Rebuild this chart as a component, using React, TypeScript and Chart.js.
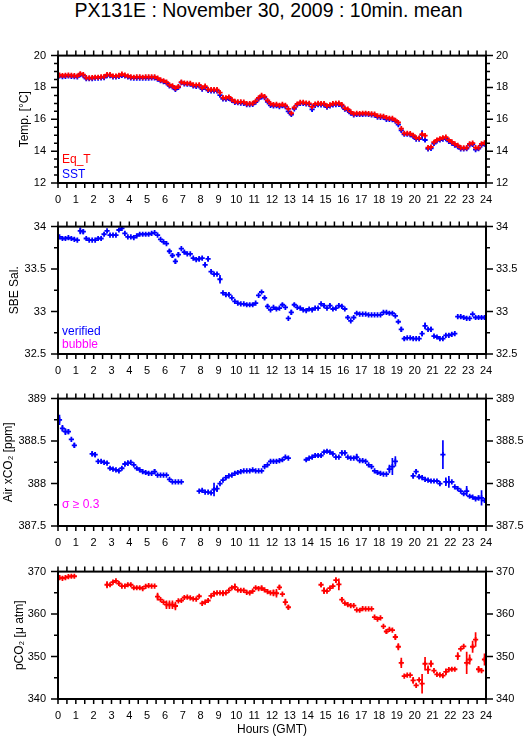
import React, { useEffect, useRef } from "react";
import { Chart, registerables } from "chart.js";

Chart.register(...registerables);

const FONT = "'Liberation Sans', Arial, Helvetica, sans-serif";
const N = null;

// 10-minute means: 6 slots per hour, slot i covers [i/6, (i+1)/6) hours GMT
const eqT = [
  18.78, 18.75, 18.76, 18.78, 18.76, 18.74,
  18.72, 18.86, 18.80, 18.62, 18.60, 18.62,
  18.64, 18.64, 18.66, 18.68, 18.80, 18.80,
  18.72, 18.72, 18.76, 18.84, 18.78, 18.72,
  18.66, 18.64, 18.66, 18.66, 18.64, 18.66,
  18.66, 18.66, 18.66, 18.58, 18.48, 18.42,
  18.34, 18.16, 18.10, 17.96, 18.06, 18.34,
  18.28, 18.26, 18.26, 18.16, 18.14, 18.16,
  17.98, 18.08, 17.88, 17.86, 17.86, 17.86,
  17.68, 17.36, 17.34, 17.40, 17.24, 17.12,
  17.10, 17.10, 17.08, 16.98, 16.98, 17.00,
  17.14, 17.34, 17.50, 17.42, 17.18, 16.98,
  16.92, 16.94, 16.88, 16.94, 16.88, 16.66,
  16.38, 16.74, 16.96, 17.06, 17.06, 17.02,
  17.00, 16.78, 16.96, 17.00, 16.98, 16.98,
  16.84, 16.90, 16.98, 17.00, 17.02, 16.92,
  16.70, 16.64, 16.46, 16.34, 16.38, 16.36,
  16.38, 16.38, 16.36, 16.34, 16.32, 16.22,
  16.20, 16.18, 16.10, 16.06, 16.06, 15.94,
  15.80, 15.42, 15.12, 15.12, 15.10, 15.00,
  14.84, 14.82, 15.06, 14.98, 14.22, 14.26,
  14.56, 14.70, 14.78, 14.84, 14.88, 14.70,
  14.58, 14.46, 14.36, 14.22, 14.20, 14.22,
  14.46, 14.50, 14.22, 14.22, 14.46, 14.52,
];

const sst = [
  18.72, 18.68, 18.70, 18.72, 18.70, 18.68,
  18.66, 18.80, 18.74, 18.55, 18.55, 18.56,
  18.58, 18.58, 18.60, 18.62, 18.74, 18.74,
  18.66, 18.66, 18.70, 18.76, 18.72, 18.66,
  18.60, 18.58, 18.58, 18.58, 18.58, 18.58,
  18.58, 18.60, 18.60, 18.52, 18.42, 18.36,
  18.28, 18.10, 18.04, 17.88, 18.00, 18.30,
  18.22, 18.20, 18.20, 18.10, 18.06, 18.10,
  17.90, 18.00, 17.82, 17.78, 17.78, 17.78,
  17.52, 17.28, 17.26, 17.32, 17.18, 17.06,
  17.04, 17.02, 17.00, 16.92, 16.92, 16.94,
  17.08, 17.28, 17.40, 17.36, 17.10, 16.88,
  16.84, 16.86, 16.80, 16.86, 16.80, 16.50,
  16.30, 16.66, 16.90, 17.00, 17.00, 16.96,
  16.94, 16.62, 16.88, 16.92, 16.90, 16.90,
  16.76, 16.84, 16.90, 16.92, 16.94, 16.84,
  16.64, 16.56, 16.38, 16.28, 16.30, 16.30,
  16.30, 16.32, 16.30, 16.28, 16.26, 16.14,
  16.12, 16.12, 16.00, 16.00, 15.98, 15.88,
  15.66, 15.30, 15.06, 15.06, 15.04, 14.92,
  14.76, 14.76, 15.02, 14.70, 14.14, 14.18,
  14.48, 14.64, 14.70, 14.76, 14.78, 14.62,
  14.50, 14.38, 14.28, 14.14, 14.14, 14.16,
  14.40, 14.42, 14.10, 14.16, 14.38, 14.44,
];

const salinity = [
  33.88, 33.86, 33.86, 33.87, 33.86, 33.85,
  33.84, 33.95, 33.94, 33.86, 33.84, 33.84,
  33.84, 33.86, 33.86, 33.91, 33.95, 33.90,
  33.90, 33.90, 33.96, 33.98, 33.92, 33.88,
  33.88, 33.87, 33.89, 33.91, 33.91, 33.91,
  33.91, 33.92, 33.93, 33.90, 33.85, 33.82,
  33.80, 33.71, 33.66, 33.59, 33.67, 33.74,
  33.70, 33.68, 33.68, 33.63, 33.61, 33.62,
  33.63, 33.55, 33.62, 33.47, 33.44, 33.44,
  33.38, 33.22, 33.20, 33.20, 33.16, 33.12,
  33.10, 33.09, 33.09, 33.08, 33.08, 33.08,
  33.10, 33.19, 33.23, 33.16, 33.06, 33.02,
  33.05, 33.03, 33.04, 33.08, 33.05, 32.92,
  32.99, 33.08, 33.05, 33.04, 33.02, 33.01,
  33.03, 33.02, 33.04, 33.04, 33.09, 33.07,
  33.04, 33.07, 33.03, 33.04, 33.07, 33.06,
  33.03, 32.93, 32.89, 32.93, 32.98, 32.97,
  32.97, 32.97, 32.96, 32.96, 32.96, 32.96,
  32.96, 32.99, 32.99, 32.98, 32.98, 32.95,
  32.88, 32.79, 32.68, 32.69, 32.69, 32.68,
  32.68, 32.68, 32.74, 32.83, 32.79, 32.79,
  32.71, 32.70, 32.68, 32.68, 32.72, 32.72,
  32.73, 32.74, 32.94, 32.94, 32.93, 32.92,
  32.92, 32.97, 32.93, 32.93, 32.93, 32.93,
];

const airXco2 = [
  388.75, 388.65, 388.61, 388.61, 388.52, 388.45,
  N, N, N, N, N, 388.35,
  388.34, 388.26, 388.26, 388.25, 388.24, 388.18,
  388.17, 388.16, 388.15, 388.18, 388.23, 388.24,
  388.25, 388.22, 388.18, 388.16, 388.14, 388.13,
  388.12, 388.12, 388.14, 388.10, 388.10, 388.10,
  388.10, 388.05, 388.02, 388.02, 388.02, 388.02,
  N, N, N, N, N, 387.91,
  387.92, 387.90, 387.90, 387.89, 387.93, 387.94,
  388.00, 388.04, 388.07, 388.09, 388.10, 388.12,
  388.13, 388.14, 388.15, 388.15, 388.15, 388.16,
  388.15, 388.15, 388.15, 388.20, 388.22, 388.26,
  388.26, 388.26, 388.27, 388.28, 388.31, 388.30,
  N, N, N, N, N, 388.28,
  388.30, 388.31, 388.33, 388.33, 388.33, 388.37,
  388.38, 388.37, 388.35, 388.31, 388.31, 388.36,
  388.36, 388.31, 388.30, 388.30, 388.31, 388.27,
  388.27, 388.26, 388.22, 388.20, 388.15, 388.13,
  388.12, 388.11, 388.11, 388.17, 388.20, 388.26,
  N, N, N, N, N, 388.09,
  388.14, 388.08, 388.07, 388.05, 388.04, 388.03,
  388.03, 388.03, 388.00, 388.34, 388.02, 388.02,
  388.02, 387.96, 387.94, 387.91, 387.88, 387.91,
  387.85, 387.84, 387.82, 387.83, 387.83, 387.80,
];

const pco2 = [
  368.6, 368.4, 368.6, 368.8, 368.9, 368.9,
  N, N, N, N, N, N,
  N, N, N, N, 366.9, 366.9,
  367.5, 367.8, 367.2, 366.6, 366.6, 366.9,
  366.9, 366.2, 366.2, 366.2, 366.0, 366.5,
  366.7, 366.6, 366.6, 364.1, 363.4, 362.8,
  362.2, 362.2, 362.2, 361.9, 363.1, 363.2,
  363.9, 364.0, 363.8, 363.6, 363.5, 364.2,
  362.5, 362.8, 363.2, 364.3, 364.8, 365.0,
  365.0, 364.9, 365.0, 365.6, 366.2, 366.4,
  365.7, 365.6, 365.6, 365.1, 365.0, 365.4,
  366.2, 366.0, 366.1, 365.7, 365.3, 365.0,
  365.0, 364.9, 366.3, 364.7, 362.8, 361.6,
  N, N, N, N, N, N,
  N, N, N, N, 366.9, 365.5,
  365.4, 366.1, 366.6, 368.0, 367.0, 363.4,
  362.6, 362.2, 362.0, 362.0, 361.0, 360.9,
  361.3, 361.2, 361.2, 361.2, 359.3, 358.8,
  359.1, 357.1, 355.9, 356.4, 356.2, 354.6,
  352.3, 348.5, 345.4, 345.6, 345.6, 344.4,
  343.2, 344.5, 343.6, 348.3, 346.9, 348.3,
  346.7, 345.8, 345.7, 345.5, 346.4, 346.9,
  347.0, 347.0, 350.1, 351.8, 352.4, 348.5,
  349.3, 352.3, 354.0, 347.0, 346.7, 349.3,
];

// standard deviations [slot, sd] where the error bar exceeds the symbol
const eqTSd: [number, number][] = [[54, 0.1], [122, 0.08], [139, 0.08]];
const sstSd: [number, number][] = [
  [37, 0.08], [39, 0.1], [54, 0.12], [78, 0.1], [85, 0.12], [115, 0.1],
  [122, 0.3], [123, 0.12], [125, 0.08], [139, 0.15],
];
const salSd: [number, number][] = [
  [7, 0.04], [8, 0.03], [37, 0.03], [38, 0.03], [39, 0.03], [40, 0.03],
  [42, 0.02], [47, 0.03], [49, 0.03], [50, 0.03], [54, 0.05], [57, 0.02],
  [69, 0.02], [70, 0.03], [75, 0.02], [78, 0.03], [79, 0.02], [89, 0.02],
  [91, 0.02], [95, 0.02], [115, 0.03], [116, 0.02], [122, 0.03], [123, 0.04],
  [125, 0.03],
];
const xco2Sd: [number, number][] = [
  [0, 0.06], [1, 0.04], [2, 0.04], [3, 0.03], [5, 0.03], [11, 0.03],
  [12, 0.03], [22, 0.03], [23, 0.03], [32, 0.03], [52, 0.08], [53, 0.04],
  [95, 0.03], [96, 0.03], [100, 0.04], [111, 0.05], [112, 0.1], [113, 0.06],
  [119, 0.03], [120, 0.03], [121, 0.03], [129, 0.17], [130, 0.05], [131, 0.07],
  [137, 0.06], [141, 0.03], [142, 0.09],
];
const pco2Sd: [number, number][] = [
  [0, 0.6], [16, 0.8], [33, 0.9], [36, 1.0], [37, 1.0], [38, 1.0], [39, 1.0],
  [52, 0.7], [55, 0.7], [59, 0.8], [68, 0.6], [72, 0.8], [73, 1.0], [74, 0.6],
  [76, 0.8], [77, 0.6], [88, 0.6], [89, 0.8], [93, 0.6], [94, 1.4], [95, 0.6],
  [110, 0.6], [113, 0.7], [114, 0.8], [115, 1.2], [119, 0.8], [122, 2.3],
  [123, 1.6], [124, 1.0], [125, 0.8], [130, 0.8], [134, 0.9], [137, 2.6],
  [138, 1.2], [139, 1.4], [140, 1.7], [141, 0.8], [143, 1.4],
];

const hourTicks = [0, 1, 2, 3, 4, 5, 6, 7, 8, 9, 10, 11, 12, 13, 14, 15, 16, 17, 18, 19, 20, 21, 22, 23, 24];
const tempTicks = [12, 14, 16, 18, 20];
const salTicks = [32.5, 33, 33.5, 34];
const xco2Ticks = [387.5, 388, 388.5, 389];
const pco2Ticks = [340, 350, 360, 370];

const RED = "#ff0000";
const BLUE = "#0000ff";
const MAGENTA = "#ff00ff";

type Series = { label: string; values: (number | null)[]; sd: [number, number][]; color: string };
type Note = { text: string; color: string; dy: number };
type Panel = {
  top: number;
  height: number;
  xH: number;
  yMin: number;
  yMax: number;
  yTicks: number[];
  yMinor: number;
  yTitle: string;
  yTitlePad: number;
  xTitle?: string;
  series: Series[];
  notes: Note[];
};

const PANELS: Panel[] = [
  {
    top: 37, height: 172, xH: 26, yMin: 12, yMax: 20, yTicks: tempTicks, yMinor: 0.5,
    yTitle: "Temp. [°C]", yTitlePad: 17.8,
    series: [
      { label: "Eq_T", values: eqT, sd: eqTSd, color: RED },
      { label: "SST", values: sst, sd: sstSd, color: BLUE },
    ],
    notes: [
      { text: "Eq_T", color: RED, dy: 20 },
      { text: "SST", color: BLUE, dy: 5.5 },
    ],
  },
  {
    top: 208, height: 172, xH: 26, yMin: 32.5, yMax: 34, yTicks: salTicks, yMinor: 0.25,
    yTitle: "SBE Sal.", yTitlePad: 7.8,
    series: [{ label: "verified", values: salinity, sd: salSd, color: BLUE }],
    notes: [
      { text: "verified", color: BLUE, dy: 18.6 },
      { text: "bubble", color: MAGENTA, dy: 6 },
    ],
  },
  {
    top: 380, height: 172, xH: 26, yMin: 387.5, yMax: 389, yTicks: xco2Ticks, yMinor: 0.25,
    yTitle: "Air xCO₂ [ppm]", yTitlePad: 1.8,
    series: [{ label: "Air xCO2", values: airXco2, sd: xco2Sd, color: BLUE }],
    notes: [{ text: "σ ≥ 0.3", color: MAGENTA, dy: 18.5 }],
  },
  {
    top: 553, height: 186, xH: 40, yMin: 340, yMax: 370, yTicks: pco2Ticks, yMinor: 5,
    yTitle: "pCO₂ [μ atm]", yTitlePad: 12.3, xTitle: "Hours (GMT)",
    series: [{ label: "pCO2", values: pco2, sd: pco2Sd, color: RED }],
    notes: [],
  },
];

const slotTime = (i: number) => (i + 0.5) / 6;

function panelPlugin(p: Panel) {
  return {
    id: "panelDecor",
    afterDatasetDraw(chart: any, args: any) {
      const s = p.series[args.index];
      if (!s) return;
      const ctx = chart.ctx;
      const xs = chart.scales.x;
      const ys = chart.scales.y;
      ctx.save();
      ctx.strokeStyle = s.color;
      ctx.lineWidth = 1.7;
      ctx.beginPath();
      for (const [i, sd] of s.sd) {
        const v = s.values[i];
        if (v == null) continue;
        const x = xs.getPixelForValue(slotTime(i));
        ctx.moveTo(x, ys.getPixelForValue(v - sd));
        ctx.lineTo(x, ys.getPixelForValue(v + sd));
      }
      ctx.stroke();
      ctx.restore();
    },
    afterDraw(chart: any) {
      const { ctx, chartArea: a } = chart;
      const xs = chart.scales.x;
      const ys = chart.scales.y;
      ctx.save();
      ctx.strokeStyle = "#000";
      ctx.lineWidth = 1.5;
      ctx.beginPath();
      for (let k = 0; k <= 48; k++) {
        const x = xs.getPixelForValue(k / 2);
        ctx.moveTo(x, a.top);
        ctx.lineTo(x, a.top - 5);
        ctx.moveTo(x, a.bottom);
        ctx.lineTo(x, a.bottom + 5);
      }
      const steps = Math.round((p.yMax - p.yMin) / p.yMinor);
      for (let k = 0; k <= steps; k++) {
        const v = p.yMin + k * p.yMinor;
        const major = p.yTicks.some((t) => Math.abs(t - v) < 1e-6);
        const len = major ? 7 : 4;
        const y = ys.getPixelForValue(v);
        ctx.moveTo(a.left, y);
        ctx.lineTo(a.left - len, y);
        ctx.moveTo(a.right, y);
        ctx.lineTo(a.right + len, y);
      }
      ctx.stroke();
      ctx.lineWidth = 2;
      ctx.strokeRect(a.left, a.top, a.right - a.left, a.bottom - a.top);
      ctx.font = `12px ${FONT}`;
      ctx.textAlign = "left";
      ctx.textBaseline = "alphabetic";
      for (const n of p.notes) {
        ctx.fillStyle = n.color;
        ctx.fillText(n.text, a.left + 4, a.bottom - n.dy);
      }
      ctx.restore();
    },
  };
}

function fmt(v: number) {
  return String(Math.round(v * 100) / 100);
}

function PanelChart({ p }: { p: Panel }) {
  const ref = useRef<HTMLCanvasElement>(null);
  useEffect(() => {
    const canvas = ref.current;
    if (!canvas) return;
    const tickFont = { family: FONT, size: 11 };
    const chart = new Chart(canvas, {
      type: "scatter",
      data: {
        datasets: p.series.map((s) => ({
          label: s.label,
          data: s.values.flatMap((v, i) => (v == null ? [] : [{ x: slotTime(i), y: v }])),
          showLine: false,
          pointStyle: "cross",
          pointRadius: 2.6,
          pointHoverRadius: 2.6,
          pointBorderWidth: 1.8,
          borderColor: s.color,
          backgroundColor: s.color,
        })),
      },
      options: {
        animation: false,
        responsive: false,
        maintainAspectRatio: false,
        events: [],
        layout: { padding: { top: 8, left: 0, right: 0, bottom: 0 } },
        plugins: { legend: { display: false }, tooltip: { enabled: false }, title: { display: false } },
        scales: {
          x: {
            type: "linear",
            position: "bottom",
            min: 0,
            max: 24,
            grid: { display: false, drawTicks: false },
            border: { display: false },
            afterBuildTicks: (s: any) => {
              s.ticks = hourTicks.map((v) => ({ value: v }));
            },
            afterFit: (s: any) => {
              s.height = p.xH;
            },
            ticks: {
              autoSkip: false,
              maxRotation: 0,
              padding: 10,
              color: "#000",
              font: tickFont,
              callback: (v: any) => fmt(Number(v)),
            },
            title: p.xTitle
              ? { display: true, text: p.xTitle, color: "#000", font: { family: FONT, size: 12 }, padding: { top: 0, bottom: 2 } }
              : { display: false },
          },
          y: {
            type: "linear",
            position: "left",
            min: p.yMin,
            max: p.yMax,
            grid: { display: false, drawTicks: false },
            border: { display: false },
            afterBuildTicks: (s: any) => {
              s.ticks = p.yTicks.map((v) => ({ value: v }));
            },
            afterFit: (s: any) => {
              s.width = 58;
            },
            ticks: { padding: 12, color: "#000", font: tickFont, callback: (v: any) => fmt(Number(v)) },
            title: {
              display: true,
              text: p.yTitle,
              color: "#000",
              font: { family: FONT, size: 12 },
              padding: { top: p.yTitlePad, bottom: 0 },
            },
          },
          y2: {
            type: "linear",
            position: "right",
            min: p.yMin,
            max: p.yMax,
            grid: { display: false, drawTicks: false },
            border: { display: false },
            afterBuildTicks: (s: any) => {
              s.ticks = p.yTicks.map((v) => ({ value: v }));
            },
            afterFit: (s: any) => {
              s.width = 43;
            },
            ticks: { padding: 10, color: "#000", font: tickFont, callback: (v: any) => fmt(Number(v)) },
          },
        },
      } as any,
      plugins: [panelPlugin(p)],
    });
    return () => chart.destroy();
  }, [p]);
  return (
    <canvas
      ref={ref}
      width={529}
      height={p.height}
      style={{ position: "absolute", left: 0, top: p.top, width: 529, height: p.height, display: "block" }}
    />
  );
}

export default function App() {
  return (
    <div style={{ position: "absolute", left: 0, top: 0, width: 529, height: 739, background: "#fff", overflow: "hidden" }}>
      <div
        style={{
          position: "absolute",
          left: 0,
          top: 1,
          width: 537,
          textAlign: "center",
          fontFamily: FONT,
          fontSize: 19.5,
          lineHeight: "19.5px",
          whiteSpace: "nowrap",
          color: "#000",
        }}
      >
        PX131E : November 30, 2009 : 10min. mean
      </div>
      {PANELS.map((p, i) => (
        <PanelChart key={i} p={p} />
      ))}
    </div>
  );
}
